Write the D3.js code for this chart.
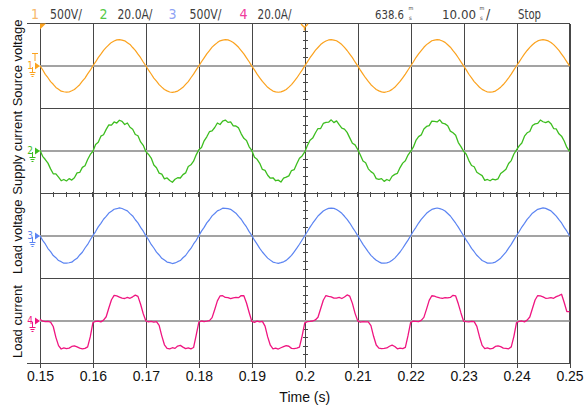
<!DOCTYPE html>
<html>
<head>
<meta charset="utf-8">
<script src="https://cdn.jsdelivr.net/npm/d3@7"></script>
<style>
  html, body { margin: 0; padding: 0; background: #fff; }
  svg { display: block; }
</style>
</head>
<body>
<svg id="chart" width="584" height="410"></svg>
<script>
// Sampling grid of the captured record: one sample every 0.5 ms from t = 0.15 s
const timeStart = 0.15;
const sampleStep = 0.0005;

// Channel 1 – source voltage (V)
const sourceVoltage = [
  0, -45, -99, -139, -185, -216, -253, -274, -297, -304, -309, -307, -293, -278, -249, -221, -180, -143, -94, -50,
  2, 47, 98, 139, 184, 218, 249, 277, 293, 307, 311, 304, 296, 274, 253, 217, 183, 139, 97, 46,
  -1, -50, -95, -143, -180, -220, -250, -278, -294, -307, -311, -305, -296, -275, -252, -217, -184, -139, -97, -46,
  1, 49, 95, 143, 181, 221, 250, 275, 296, 305, 309, 307, 294, 277, 250, 220, 181, 142, 95, 49,
  -2, -46, -97, -140, -183, -218, -252, -275, -296, -305, -310, -306, -294, -277, -250, -220, -181, -142, -95, -49,
  0, 48, 97, 140, 183, 217, 252, 276, 294, 306, 310, 305, 297, 275, 252, 218, 182, 140, 98, 47,
  1, -49, -96, -142, -181, -221, -249, -277, -294, -306, -312, -304, -295, -276, -252, -218, -183, -140, -96, -48,
  -1, 46, 99, 141, 180, 220, 251, 274, 297, 304, 311, 306, 293, 278, 249, 221, 180, 143, 96, 48,
  0, -47, -98, -140, -184, -217, -251, -276, -293, -307, -309, -306, -296, -275, -250, -219, -182, -141, -97, -47,
  2, 48, 96, 142, 182, 219, 250, 277, 295, 305, 310, 304, 295, 277, 251, 218, 183, 139, 97, 48,
  1
];

// Channel 2 – supply current (A)
const supplyCurrent = [
  0.3, -2.6, -4.1, -5.8, -8.5, -10.8, -10.9, -12.4, -14.1, -13.5, -14.2, -13.1, -13.8, -12.7, -10.4, -10.2, -7.8, -7.0, -4.1, -1.7,
  -0.2, 3.0, 4.0, 6.9, 7.6, 10.1, 12.2, 12.1, 13.6, 13.1, 14.4, 13.9, 12.4, 13.1, 11.1, 10.2, 7.7, 7.1, 4.2, 2.6,
  -0.4, -1.7, -3.4, -6.7, -8.0, -10.5, -11.0, -13.2, -12.8, -14.0, -14.8, -13.4, -12.7, -12.8, -11.2, -10.4, -7.4, -6.6, -4.9, -1.9,
  0.5, 1.6, 4.7, 6.6, 9.0, 9.4, 11.0, 13.1, 12.4, 14.0, 14.5, 13.4, 13.6, 11.8, 11.7, 10.8, 8.0, 5.9, 4.9, 1.9,
  0.2, -3.0, -4.0, -5.9, -8.8, -9.2, -11.5, -12.9, -12.7, -14.1, -13.8, -14.7, -12.9, -12.4, -11.8, -9.3, -8.9, -6.1, -3.5, -2.4,
  -0.5, 2.5, 5.0, 6.0, 8.4, 10.5, 10.5, 12.9, 13.4, 13.5, 14.6, 13.3, 14.1, 12.3, 10.7, 10.2, 8.7, 6.1, 3.6, 2.8,
  0.6, -2.0, -4.8, -5.6, -8.5, -9.8, -10.7, -13.1, -13.5, -13.1, -14.4, -13.5, -14.1, -12.0, -11.1, -10.6, -7.9, -5.8, -4.7, -2.0,
  -0.3, 1.7, 4.9, 6.7, 7.5, 10.3, 11.5, 11.9, 14.0, 13.9, 13.6, 14.6, 13.0, 12.7, 11.8, 9.3, 8.5, 7.3, 3.9, 2.0,
  -0.2, -1.6, -4.6, -6.9, -7.5, -10.1, -10.9, -11.7, -13.9, -13.5, -14.1, -13.3, -13.7, -13.2, -10.7, -9.7, -8.7, -6.0, -4.6, -1.5,
  0.4, 2.3, 3.7, 6.9, 8.5, 9.1, 11.9, 12.7, 12.9, 14.5, 13.7, 13.3, 13.9, 12.8, 10.5, 10.3, 8.0, 6.9, 4.6, 1.6,
  -0.3
];

// Channel 3 – load voltage (V)
const loadVoltage = [
  0, -55, -97, -151, -188, -234, -259, -293, -306, -324, -322, -319, -312, -287, -266, -227, -195, -145, -103, -48,
  3, 49, 104, 146, 194, 227, 266, 287, 312, 318, 327, 320, 306, 292, 260, 233, 188, 151, 98, 53,
  -2, -48, -103, -145, -194, -227, -266, -287, -311, -318, -328, -321, -306, -293, -260, -233, -189, -150, -97, -54,
  1, 54, 98, 151, 188, 233, 261, 292, 306, 324, 322, 318, 311, 288, 265, 227, 194, 145, 103, 48,
  2, -53, -99, -149, -192, -228, -264, -288, -311, -319, -326, -318, -308, -291, -262, -232, -190, -147, -101, -50,
  -1, 50, 101, 147, 190, 232, 262, 291, 308, 322, 324, 322, 309, 289, 264, 229, 192, 149, 99, 52,
  1, -50, -102, -146, -190, -231, -262, -290, -308, -323, -323, -320, -310, -289, -264, -229, -192, -148, -99, -52,
  0, 52, 99, 149, 192, 228, 264, 289, 310, 319, 326, 319, 308, 291, 262, 232, 190, 147, 101, 50,
  -1, -52, -98, -150, -189, -231, -261, -292, -307, -323, -324, -320, -311, -288, -265, -228, -193, -146, -102, -49,
  2, 50, 102, 146, 193, 228, 265, 288, 311, 319, 327, 322, 307, 292, 261, 231, 189, 150, 98, 53,
  0
];

// Channel 4 – load current (A)
const loadCurrent = [
  0.6, -0.3, -0.5, -0.4, -0.7, -2.8, -7.9, -11.8, -13.4, -12.9, -13.2, -13.0, -12.2, -11.9, -12.4, -13.0, -13.3, -13.1, -12.4, -7.6,
  -0.9, -0.4, -0.3, -0.6, 0.2, 1.8, 5.9, 9.8, 11.9, 11.6, 11.1, 10.6, 10.4, 10.9, 10.5, 11.2, 12.0, 11.4, 7.7, 3.2,
  -0.2, -0.6, -0.4, -0.7, -0.5, -2.3, -7.2, -11.4, -13.1, -13.3, -12.8, -13.1, -12.0, -11.7, -12.5, -13.2, -12.9, -13.3, -12.7, -6.8,
  -0.7, -0.2, -0.5, -0.3, 0.0, 1.4, 5.2, 9.3, 11.6, 11.7, 10.9, 10.8, 10.3, 10.7, 10.9, 10.8, 11.8, 11.7, 8.3, 3.8,
  -0.4, -0.8, -0.3, -0.6, -0.4, -2.6, -7.7, -11.6, -13.3, -13.0, -13.4, -12.8, -12.3, -11.8, -12.1, -13.1, -13.2, -13.0, -12.5, -7.3,
  -1.1, -0.5, -0.4, -0.2, 0.3, 1.6, 5.6, 9.6, 11.8, 11.4, 11.2, 10.6, 10.6, 10.9, 10.4, 11.1, 12.1, 11.5, 8.1, 3.4,
  -0.1, -0.7, -0.5, -0.6, -0.6, -2.4, -7.4, -11.5, -13.0, -13.2, -13.1, -12.9, -12.1, -11.6, -12.2, -13.3, -13.0, -13.2, -12.6, -7.1,
  -0.8, -0.3, -0.4, -0.5, 0.1, 1.5, 5.4, 9.5, 11.7, 11.5, 11.0, 10.7, 10.5, 10.8, 10.7, 10.9, 11.9, 11.6, 7.9, 3.6,
  -0.3, -0.5, -0.6, -0.4, -0.5, -2.7, -7.6, -11.7, -13.2, -12.9, -13.3, -13.1, -12.2, -11.9, -12.3, -13.0, -13.1, -13.3, -12.4, -7.4,
  -0.9, -0.4, -0.2, -0.6, 0.2, 1.7, 5.7, 9.7, 11.8, 11.6, 11.2, 10.5, 10.6, 10.8, 10.5, 11.3, 11.8, 12.4, 8.5, 4.2,
  4.2
];

const timeTicks = [0.15, 0.16, 0.17, 0.18, 0.19, 0.2, 0.21, 0.22, 0.23, 0.24, 0.25];
const tickLabels = ["0.15", "0.16", "0.17", "0.18", "0.19", "0.2", "0.21", "0.22", "0.23", "0.24", "0.25"];
const panelLabels = ["Source voltage", "Supply current", "Load voltage", "Load current"];
const channelNumbers = ["1", "2", "3", "4"];
const channelScales = ["500V/", "20.0A/", "500V/", "20.0A/"];
const unitsPerDiv = [500, 20, 500, 20];
const triggerTime = "638.6";
const timePerDiv = "10.00";
const runState = "Stop";

// ---- layout ----
const svg = d3.select("#chart");
const plotLeft = 40, plotRight = 569.5, plotTop = 23.5;
const divPx = 42.44;                 // one vertical division in px
const plotBottom = plotTop + 8 * divPx;
const frameLeft = 27;

const traceColors = ["#fba21e", "#3dbd1f", "#5b84f2", "#ef1580"];
const traceWidths = [1.2, 1.3, 1.2, 1.3];
const numberColors = ["#f7b86c", "#55c946", "#8ea3f5", "#f03a9c"];
const gridColor = "#474747";
const textFont = "'Liberation Sans', Arial, sans-serif";
const narrowFont = "'Liberation Sans Narrow', 'Arial Narrow', 'DejaVu Sans Condensed', sans-serif";

const x = d3.scaleLinear().domain([0.15, 0.25]).range([plotLeft, plotRight]);
const channels = [sourceVoltage, supplyCurrent, loadVoltage, loadCurrent];
const zeroY = channels.map((_, i) => plotTop + (2 * i + 1) * divPx);
const yScales = channels.map((_, i) =>
  d3.scaleLinear().domain([-unitsPerDiv[i], unitsPerDiv[i]]).range([zeroY[i] + divPx, zeroY[i] - divPx]));

const crisp = v => Math.round(v - 0.5) + 0.5;
const yBot = crisp(plotBottom);

// ---- grid ----
const grid = svg.append("g").attr("shape-rendering", "crispEdges");

// vertical division lines, running slightly below the frame as ticks
grid.append("g")
  .attr("transform", `translate(0,${yBot})`)
  .call(d3.axisBottom(x).tickValues(timeTicks).tickSizeInner(-(yBot - plotTop)).tickSizeOuter(0).tickFormat(""))
  .call(g => g.select(".domain").remove())
  .call(g => g.selectAll("line").attr("stroke", gridColor).attr("y1", 4));

// panel separators
grid.append("g").selectAll("line").data([1, 2, 3]).join("line")
  .attr("x1", plotLeft).attr("x2", plotRight)
  .attr("y1", d => crisp(plotTop + 2 * d * divPx)).attr("y2", d => crisp(plotTop + 2 * d * divPx))
  .attr("stroke", gridColor);

// frame top / bottom / right
grid.append("line").attr("x1", frameLeft).attr("x2", plotRight + 0.5).attr("y1", plotTop).attr("y2", plotTop).attr("stroke", gridColor);
grid.append("line").attr("x1", frameLeft).attr("x2", plotRight + 0.5).attr("y1", yBot).attr("y2", yBot).attr("stroke", gridColor);
grid.append("line").attr("x1", crisp(plotRight)).attr("x2", crisp(plotRight)).attr("y1", plotTop).attr("y2", yBot).attr("stroke", gridColor);

// channel ground lines
svg.append("g").selectAll("line").data(zeroY).join("line")
  .attr("x1", plotLeft).attr("x2", plotRight)
  .attr("y1", d => Math.round(d)).attr("y2", d => Math.round(d))
  .attr("stroke", "#a3a3a3").attr("stroke-width", 2);

// minor ticks on the centre cross
const centreY = crisp(plotTop + 4 * divPx);
const centreX = crisp(x(0.2));
const minorT = d3.range(0, 41).map(k => 0.15 + k * 0.0025);
grid.append("g").selectAll("line").data(minorT).join("line")
  .attr("x1", d => crisp(x(d))).attr("x2", d => crisp(x(d)))
  .attr("y1", centreY - 2).attr("y2", centreY + 3)
  .attr("stroke", gridColor);
const minorY = d3.range(0, 41).map(k => plotTop + k * divPx / 5);
grid.append("g").selectAll("line").data(minorY).join("line")
  .attr("x1", centreX - 2).attr("x2", centreX + 3)
  .attr("y1", d => crisp(d)).attr("y2", d => crisp(d))
  .attr("stroke", gridColor);

// ---- traces ----
channels.forEach((values, i) => {
  const line = d3.line()
    .x((d, j) => x(timeStart + j * sampleStep))
    .y(d => yScales[i](d));
  svg.append("path")
    .datum(values)
    .attr("d", line)
    .attr("fill", "none")
    .attr("stroke", traceColors[i])
    .attr("stroke-width", traceWidths[i])
    .attr("stroke-linejoin", "round");
});

// ---- channel markers on the left edge ----
channels.forEach((_, i) => {
  const y0 = Math.round(zeroY[i]);
  const g = svg.append("g").attr("fill", traceColors[i]).attr("stroke", traceColors[i]);
  g.append("text")
    .attr("x", 33).attr("y", y0 + 3)
    .attr("text-anchor", "end")
    .attr("font-family", narrowFont).attr("font-size", 10)
    .attr("stroke", "none")
    .text(channelNumbers[i]);
  g.append("path").attr("d", `M35,${y0 - 3.5}L40,${y0}L35,${y0 + 3.5}Z`).attr("stroke", "none");
  g.append("path")
    .attr("d", `M32.5,${y0 + 1}V${y0 + 6}M29.5,${y0 + 6.5}H35.5M30.5,${y0 + 8.5}H34.5M31.5,${y0 + 10.5}H33.5`)
    .attr("fill", "none").attr("stroke-width", 1);
});
// trigger level mark of channel 1
svg.append("path")
  .attr("d", `M32,${Math.round(zeroY[0]) - 12.5}H38M35,${Math.round(zeroY[0]) - 12.5}V${Math.round(zeroY[0]) - 5}`)
  .attr("fill", "none").attr("stroke", traceColors[0]).attr("stroke-width", 1);
// trigger position marks
svg.append("path")
  .attr("d", `M${plotLeft},${plotTop}H${plotLeft + 6}L${plotLeft},${plotTop + 6}Z`)
  .attr("fill", traceColors[0]);
svg.append("path")
  .attr("d", `M${centreX - 3.5},${plotTop + 0.5}L${centreX},${plotTop + 4}L${centreX + 3.5},${plotTop + 0.5}M${centreX},${plotTop + 4}V${plotTop + 7}`)
  .attr("fill", "none").attr("stroke", traceColors[0]).attr("stroke-width", 1.4);

// ---- status line ----
const status = svg.append("g")
  .attr("font-family", narrowFont).attr("font-size", 14).attr("fill", "#3c3c3c");
const numberX = [31, 99.5, 168.5, 239.5];
const scaleX = [50, 117.5, 189.5, 257.5];
const scaleW = [32, 35, 32, 34];
channelNumbers.forEach((n, i) => {
  status.append("text").attr("x", numberX[i]).attr("y", 19).attr("fill", numberColors[i]).text(n);
  status.append("text").attr("x", scaleX[i]).attr("y", 19)
    .attr("textLength", scaleW[i]).attr("lengthAdjust", "spacingAndGlyphs")
    .text(channelScales[i]);
});
// small stacked "m over s" unit used by the scope readout (one text element)
function stackedUnit(xPos) {
  const t = status.append("text");
  t.append("tspan").attr("x", xPos).attr("y", 9.5).attr("font-size", 5.5).text("m");
  t.append("tspan").attr("x", xPos + 0.5).attr("y", 19.5).attr("font-size", 6).text("s");
}
status.append("text").attr("x", 375).attr("y", 19).attr("font-size", 13)
  .attr("textLength", 29).attr("lengthAdjust", "spacingAndGlyphs").text(triggerTime);
stackedUnit(408.5);
status.append("text").attr("x", 442).attr("y", 19).attr("font-size", 13)
  .attr("textLength", 34).attr("lengthAdjust", "spacingAndGlyphs").text(timePerDiv);
stackedUnit(479.5);
status.append("text").attr("x", 486).attr("y", 19).text("/");
status.append("text").attr("x", 518).attr("y", 19)
  .attr("textLength", 23).attr("lengthAdjust", "spacingAndGlyphs").text(runState);

// ---- axis labels ----
const axis = svg.append("g")
  .attr("transform", `translate(0,${yBot})`)
  .call(d3.axisBottom(x).tickValues(timeTicks).tickSize(0).tickPadding(8)
    .tickFormat((d, i) => tickLabels[i]));
axis.select(".domain").remove();
axis.selectAll("text")
  .attr("font-family", textFont).attr("font-size", 14).attr("fill", "#111");

svg.append("text")
  .attr("x", x(0.2)).attr("y", 402)
  .attr("text-anchor", "middle")
  .attr("font-family", textFont).attr("font-size", 14).attr("fill", "#111")
  .text("Time (s)");

const labelCentres = [zeroY[0] - 3, zeroY[1] + 2, zeroY[2] + 1, zeroY[3] + 1];
panelLabels.forEach((lab, i) => {
  svg.append("text")
    .attr("transform", `translate(22,${labelCentres[i]}) rotate(-90)`)
    .attr("text-anchor", "middle")
    .attr("font-family", textFont).attr("font-size", 13).attr("fill", "#111")
    .text(lab);
});
</script>
</body>
</html>
